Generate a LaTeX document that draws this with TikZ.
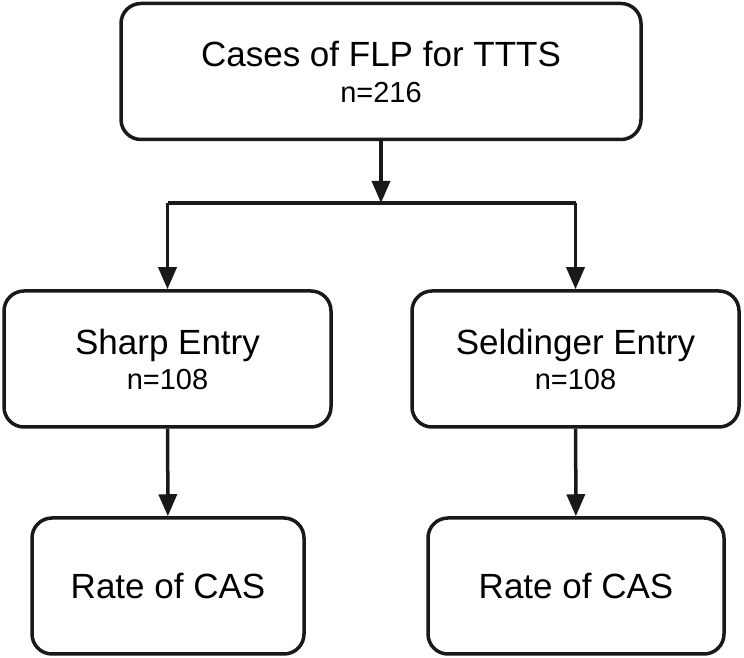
\documentclass[tikz,border=0pt]{standalone}
\usepackage{fontspec}
\setmainfont{Liberation Sans}
\usepackage{tikz}
\usetikzlibrary{arrows.meta,positioning}

\newcommand{\countsize}{\fontsize{29}{38}\selectfont}

\begin{document}
\begin{tikzpicture}[
    x=1pt, y=1pt,
    line width=3.5pt,
    flowbox/.style={rectangle, rounded corners=20pt, draw=black!90, align=center,
        inner sep=0pt, minimum height=136pt, font=\fontsize{35}{40}\selectfont},
    flowarrow/.style={-{Triangle[length=22pt,width=18pt]}, draw=black!90}
]
\useasboundingbox (0,0) rectangle (744,658);

\node[flowbox, minimum width=520pt] (FLP) at (381,586.5)
    {Cases of FLP for TTTS\\[-4pt]{\countsize n=216}};
\node[flowbox, minimum width=327pt] (Sharp) at (167.5,299)
    {Sharp Entry\\[-5pt]{\countsize n=108}};
\node[flowbox, minimum width=327pt] (Seld) at (575.5,299)
    {Seldinger Entry\\[-5pt]{\countsize n=108}};
\node[flowbox, minimum width=272pt] (CASA) at (168,72) {Rate of CAS};
\node[flowbox, minimum width=296pt] (CASB) at (576,72) {Rate of CAS};

\coordinate (split) at (381,455);

\draw[flowarrow] (FLP) -- (split);
\draw[draw=black!90] (Sharp.north |- split) -- (Seld.north |- split);
\draw[flowarrow] (Sharp.north |- split) -- (Sharp);
\draw[flowarrow] (Seld.north |- split) -- (Seld);
\draw[flowarrow] (Sharp) -- (CASA);
\draw[flowarrow] (Seld) -- (CASB);
\end{tikzpicture}
\end{document}
